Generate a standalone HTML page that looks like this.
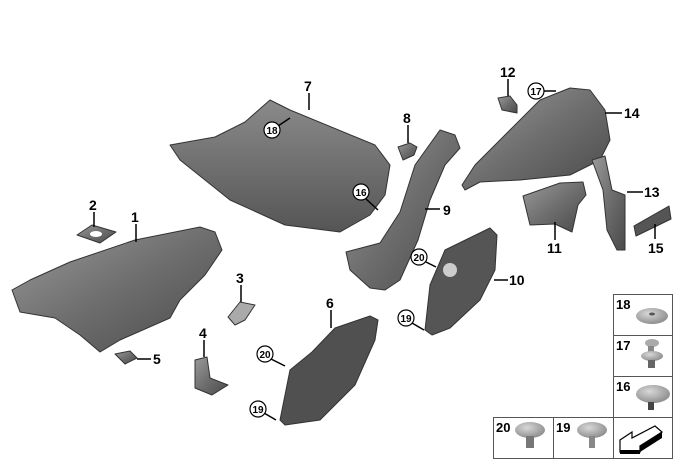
<!DOCTYPE html>
<html><head><meta charset="utf-8"><style>
html,body{margin:0;padding:0;background:#fff;}
svg{display:block}
text{font-family:"Liberation Sans",sans-serif;font-weight:bold;fill:#000}
</style></head><body>
<svg width="680" height="462" viewBox="0 0 680 462" xmlns="http://www.w3.org/2000/svg">
<defs>
<linearGradient id="g" x1="0" y1="0" x2="1" y2="1">
<stop offset="0" stop-color="#9a9a9a"/><stop offset="0.5" stop-color="#6e6e6e"/><stop offset="1" stop-color="#4a4a4a"/>
</linearGradient>
<linearGradient id="g2" x1="0" y1="0" x2="0" y2="1">
<stop offset="0" stop-color="#8a8a8a"/><stop offset="1" stop-color="#555"/>
</linearGradient>
<radialGradient id="c" cx="0.4" cy="0.35" r="0.7"><stop offset="0" stop-color="#d8d8d8"/><stop offset="1" stop-color="#8a8a8a"/></radialGradient>
</defs>
<g stroke="#333" stroke-width="1" stroke-linejoin="round">
<polygon fill="url(#g)" points="12,290 30,280 70,262 135,240 200,227 215,232 222,250 205,275 180,300 170,318 120,340 100,352 80,335 55,318 20,312"/>
<polygon fill="url(#g2)" points="170,145 215,137 245,122 270,100 290,110 375,145 390,165 385,195 370,215 340,232 285,225 230,200 180,160"/>
<polygon fill="url(#g)" points="346,252 380,243 400,212 415,165 440,130 455,135 460,148 445,165 430,200 418,240 400,280 385,290 370,288 350,270"/>
<polygon fill="#555" points="425,330 430,285 445,250 490,228 497,235 495,270 480,300 450,328 432,335"/>
<polygon fill="#505050" points="280,420 290,370 312,352 335,328 370,316 378,320 375,340 355,385 320,420 285,425"/>
<polygon fill="url(#g)" points="462,185 475,165 500,140 540,100 570,88 590,90 605,110 610,140 600,160 570,175 520,180 480,182 465,190"/>
<polygon fill="url(#g)" points="523,196 560,183 583,182 586,195 578,205 572,232 555,224 530,225"/>
<polygon fill="url(#g)" points="592,160 605,156 612,190 625,195 625,250 617,250 607,230 603,190"/>
<polygon fill="#555" points="634,226 669,206 671,219 636,236"/>
<polygon fill="url(#g)" points="498,98 510,96 517,105 517,113 502,110"/>
<polygon fill="url(#g)" points="398,147 410,143 417,147 414,155 403,160"/>
<polygon fill="url(#g)" points="77,235 92,225 116,232 100,243"/>
<polygon fill="#aaa" points="228,317 240,302 255,305 245,320 235,325"/>
<polygon fill="url(#g)" points="195,360 207,357 210,378 228,385 212,395 195,388"/>
<polygon fill="url(#g)" points="115,354 130,351 137,358 125,364"/>
</g>
<ellipse cx="96" cy="234" rx="6" ry="3" fill="#fff"/>
<circle cx="450" cy="270" r="7" fill="#ccc"/>
<g stroke="#000" stroke-width="1.5">
<line x1="136" y1="224" x2="136" y2="242"/>
<line x1="94" y1="212" x2="94" y2="227"/>
<line x1="241" y1="285" x2="241" y2="302"/>
<line x1="204" y1="340" x2="204" y2="357"/>
<line x1="137" y1="359" x2="151" y2="359"/>
<line x1="331" y1="310" x2="331" y2="328"/>
<line x1="309" y1="93" x2="309" y2="110"/>
<line x1="408" y1="125" x2="408" y2="143"/>
<line x1="425" y1="209" x2="440" y2="209"/>
<line x1="494" y1="280" x2="508" y2="280"/>
<line x1="555" y1="222" x2="555" y2="240"/>
<line x1="508" y1="79" x2="508" y2="96"/>
<line x1="627" y1="192" x2="643" y2="192"/>
<line x1="605" y1="113" x2="622" y2="113"/>
<line x1="655" y1="224" x2="655" y2="239"/>
<line x1="544" y1="91" x2="556" y2="91"/>
<line x1="278" y1="126" x2="290" y2="118"/>
<line x1="365" y1="198" x2="378" y2="210"/>
<line x1="426" y1="262" x2="436" y2="267"/>
<line x1="412" y1="323" x2="424" y2="330"/>
<line x1="271" y1="359" x2="285" y2="366"/>
<line x1="264" y1="413" x2="276" y2="420"/>
</g>
<g font-size="14">
<text x="131" y="222">1</text><text x="89" y="210">2</text><text x="236" y="283">3</text>
<text x="199" y="338">4</text><text x="153" y="364">5</text><text x="326" y="308">6</text>
<text x="304" y="91">7</text><text x="403" y="123">8</text><text x="443" y="215">9</text>
<text x="509" y="285">10</text><text x="547" y="253">11</text><text x="500" y="77">12</text>
<text x="644" y="197">13</text><text x="624" y="118">14</text><text x="648" y="253">15</text>
</g>
<g stroke="#000" stroke-width="1.2" fill="#fff">
<circle cx="536" cy="91" r="8"/><circle cx="272" cy="130" r="8"/><circle cx="361" cy="192" r="8"/>
<circle cx="419" cy="257" r="8"/><circle cx="406" cy="318" r="8"/><circle cx="265" cy="354" r="8"/><circle cx="258" cy="409" r="8"/>
</g>
<g font-size="10" text-anchor="middle">
<text x="536" y="95">17</text><text x="272" y="134">18</text><text x="361" y="196">16</text>
<text x="419" y="261">20</text><text x="406" y="322">19</text><text x="265" y="358">20</text><text x="258" y="413">19</text>
</g>
<g fill="none" stroke="#555" stroke-width="1">
<rect x="613.5" y="294.5" width="59" height="164"/>
<line x1="613" y1="335.5" x2="672" y2="335.5"/><line x1="613" y1="376.5" x2="672" y2="376.5"/>
<rect x="493.5" y="417.5" width="179" height="41"/>
<line x1="553.5" y1="417" x2="553.5" y2="458"/>
</g>
<g font-size="13">
<text x="616" y="309">18</text><text x="616" y="350">17</text><text x="616" y="391">16</text>
<text x="496" y="432">20</text><text x="556" y="432">19</text>
</g>
<ellipse cx="652" cy="316" rx="16" ry="8" fill="url(#c)"/><ellipse cx="652" cy="314" rx="3" ry="1.5" fill="#555"/>
<ellipse cx="652" cy="343" rx="7" ry="4" fill="#aaa"/>
<rect x="648" y="346" width="6" height="8" fill="#888"/>
<ellipse cx="652" cy="356" rx="11" ry="5" fill="url(#c)"/>
<rect x="648" y="360" width="7" height="8" fill="#666"/>
<ellipse cx="653" cy="394" rx="17" ry="9" fill="url(#c)"/>
<rect x="648" y="402" width="6" height="8" fill="#444"/>
<ellipse cx="530" cy="430" rx="15" ry="8" fill="url(#c)"/>
<rect x="526" y="436" width="8" height="12" fill="#777"/>
<ellipse cx="592" cy="430" rx="15" ry="8" fill="url(#c)"/>
<rect x="589" y="436" width="6" height="12" fill="#888"/>
<polygon points="620,440 632,432 632,438 655,426 662,432 640,446 640,452 620,452" fill="#fff" stroke="#000" stroke-width="1.2"/>
<polygon points="640,452 662,438 662,432 640,446" fill="#000"/>
<rect x="620" y="450" width="20" height="4" fill="#000"/>
</svg>
</body></html>
